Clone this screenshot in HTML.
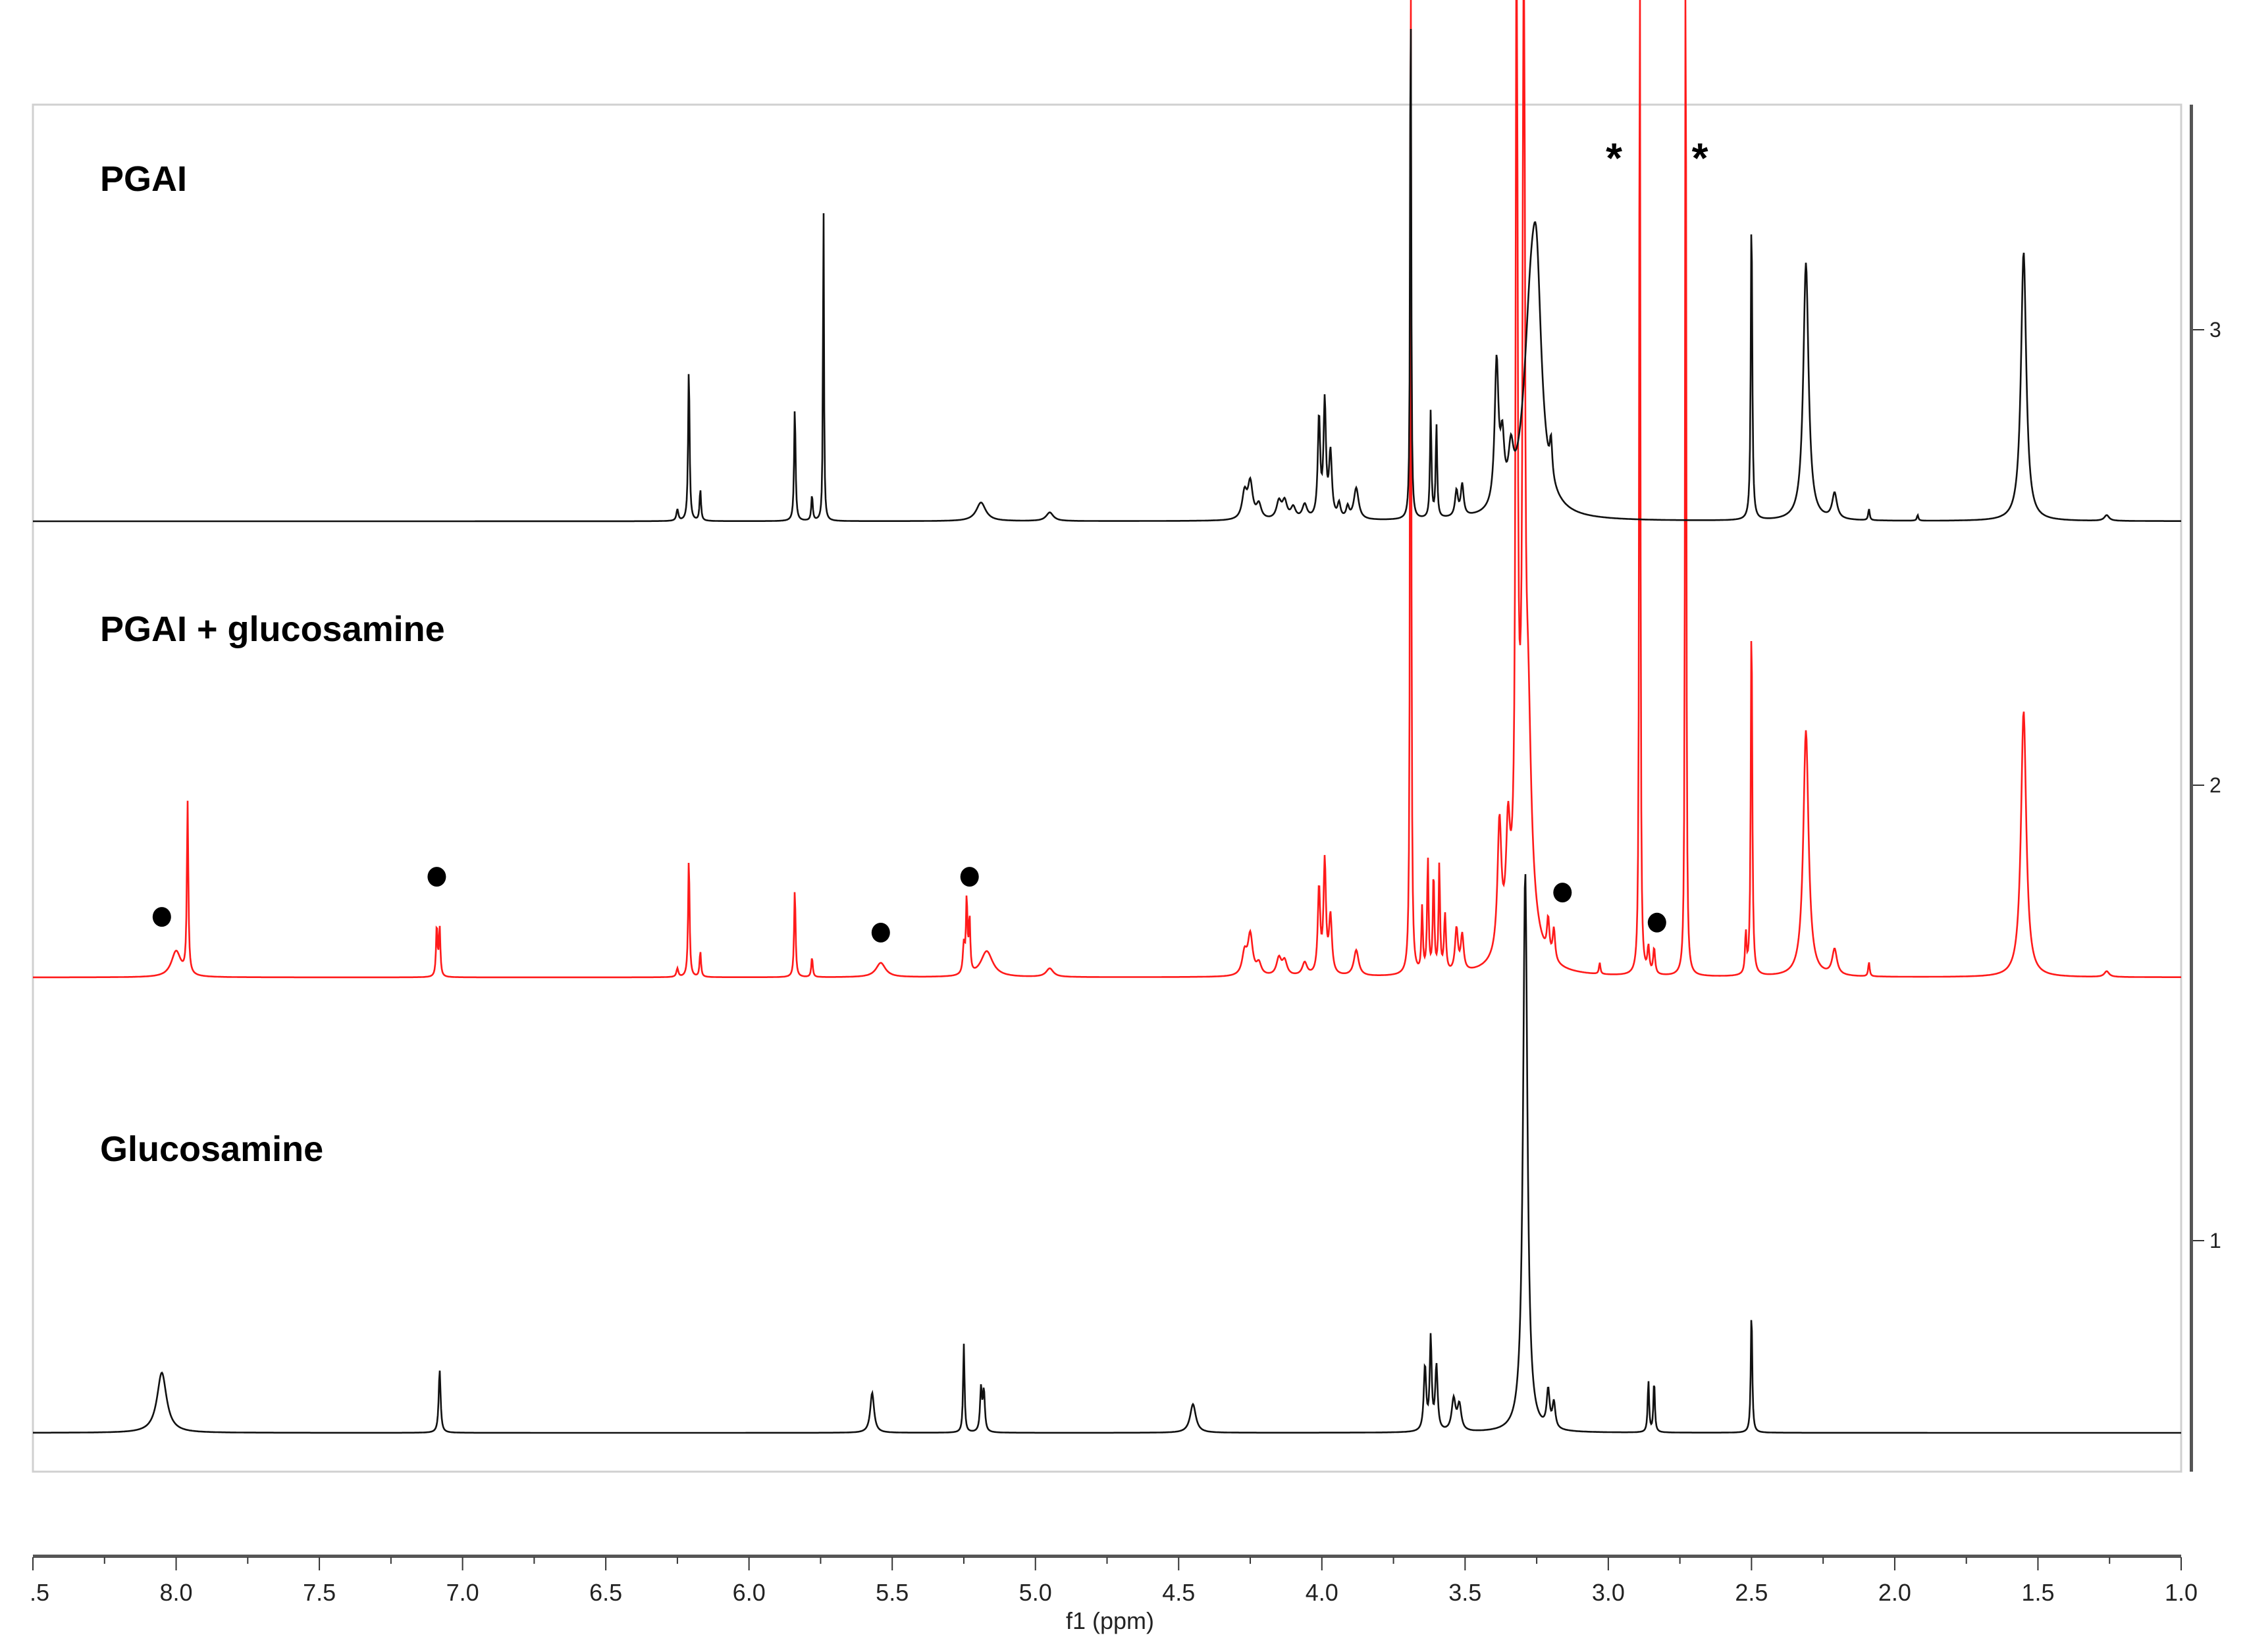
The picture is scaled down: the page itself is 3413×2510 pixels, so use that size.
<!DOCTYPE html>
<html><head><meta charset="utf-8"><style>
html,body{margin:0;padding:0;background:#fff}
svg{display:block}
text{font-family:"Liberation Sans",sans-serif}
</style></head><body>
<svg id="chart" width="3413" height="2510" viewBox="0 0 3413 2510" xmlns="http://www.w3.org/2000/svg">
<rect x="50" y="159" width="3263" height="2077" fill="none" stroke="#d0d0d0" stroke-width="3"/>
<g id="spectra"></g>
<g id="xaxis"></g>
<g id="yaxis"></g>
<text x="152" y="290" font-size="54" font-weight="bold">PGAI</text>
<text x="152" y="974" font-size="54" font-weight="bold">PGAI + glucosamine</text>
<text x="152" y="1764" font-size="54" font-weight="bold">Glucosamine</text>
<text x="1686" y="2475" font-size="36" text-anchor="middle" fill="#222">f1 (ppm)</text>
</svg>
<script>
// ---- data (heights in reference units, widths in ppm) ----
const pgaiPpm   = [6.25,6.21,6.17,5.84,5.78,5.74,5.19,4.95,4.27,4.25,4.22,4.15,4.13,4.10,4.06,4.01,3.99,3.97,3.94,3.91,3.88,3.69,3.62,3.60,3.53,3.51,3.39,3.37,3.34,3.27,3.25,3.20,2.50,2.31,2.21,2.09,1.92,1.55,1.26];
const pgaiH     = [8,108,22,80,18,228,13,6,18,25,10,12,12,8,10,70,80,45,10,8,22,450,75,65,18,22,100,40,30,130,110,25,218,180,18,8,4,188,4];
const pgaiW     = [.004,.003,.003,.003,.003,.002,.02,.015,.01,.01,.01,.01,.01,.01,.01,.005,.005,.006,.006,.006,.01,.002,.003,.003,.006,.006,.008,.008,.01,.03,.02,.005,.003,.011,.01,.003,.003,.011,.01];

const mixPpm    = [8.00,7.96,7.09,7.08,6.25,6.21,6.17,5.84,5.78,5.54,5.25,5.24,5.23,5.17,4.95,4.27,4.25,4.22,4.15,4.13,4.06,4.01,3.99,3.97,3.88,3.69,3.65,3.63,3.61,3.59,3.57,3.53,3.51,3.38,3.35,3.32,3.295,3.30,3.28,3.21,3.19,3.03,2.89,2.86,2.84,2.73,2.52,2.50,2.31,2.21,2.09,1.55,1.26];
const mixH      = [18,120,36,34,6,84,18,62,14,10,20,52,38,18,6,15,28,8,12,10,9,60,78,40,18,900,45,80,70,75,40,30,25,90,70,900,900,120,110,25,22,8,900,18,18,900,28,255,172,18,10,186,4];
const mixW      = [.02,.003,.003,.003,.004,.003,.003,.003,.003,.02,.004,.003,.003,.025,.015,.01,.01,.01,.01,.01,.01,.005,.005,.006,.01,.002,.003,.003,.003,.003,.004,.006,.006,.008,.008,.003,.003,.03,.012,.005,.005,.003,.002,.004,.004,.002,.003,.003,.011,.01,.003,.011,.01];

const glcPpm    = [8.05,7.08,5.57,5.25,5.19,5.18,4.45,3.64,3.62,3.60,3.54,3.52,3.29,3.21,3.19,2.86,2.84,2.50];
const glcH      = [42,44,28,62,30,28,20,45,64,45,22,18,392,26,18,36,36,86];
const glcW      = [.02,.004,.008,.003,.004,.004,.012,.005,.004,.005,.008,.008,.009,.006,.006,.003,.003,.003];

const xTickVals = [8.5,8.0,7.5,7.0,6.5,6.0,5.5,5.0,4.5,4.0,3.5,3.0,2.5,2.0,1.5,1.0];
const xTickLabels = [".5","8.0","7.5","7.0","6.5","6.0","5.5","5.0","4.5","4.0","3.5","3.0","2.5","2.0","1.5","1.0"];
const yTickVals = [1,2,3];
const yTickLabels = ["1","2","3"];

// ---- scales ----
const S = 2.1767;
const X0 = 50, X1 = 3313, PPM0 = 8.5, PPM1 = 1.0;
function xs(p){ return X0 + (PPM0 - p) / (PPM0 - PPM1) * (X1 - X0); }
function ys(v){ return 1885 - (v - 1) * 692; }
const NS = "http://www.w3.org/2000/svg";

function spectrum(ppm, h, w, base, color, name, topClip){
  let d = "";
  for (let px = X0; px <= X1; px += 1) {
    const p = PPM0 - (px - X0) / (X1 - X0) * (PPM0 - PPM1);
    let y = 0;
    for (let i = 0; i < ppm.length; i++) {
      const dx = p - ppm[i];
      y += h[i] * w[i] * w[i] / (dx * dx + w[i] * w[i]);
    }
    let yy = base - y * S;
    if (yy < topClip) yy = topClip;
    d += (px === X0 ? "M" : "L") + px + "," + yy.toFixed(1);
  }
  const path = document.createElementNS(NS, "path");
  path.setAttribute("d", d);
  path.setAttribute("fill", "none");
  path.setAttribute("stroke", color);
  path.setAttribute("stroke-width", "2.6");
  
  
  document.getElementById("spectra").appendChild(path);
}
spectrum(mixPpm, mixH, mixW, 1485, "#ff1a1a", "spectrum-pgai-glucosamine", 0);
spectrum(pgaiPpm, pgaiH, pgaiW, 792, "#111", "spectrum-pgai", 44);
spectrum(glcPpm, glcH, glcW, 2177, "#111", "spectrum-glucosamine", 0);

const dotPpm = [8.05,7.09,5.54,5.23,3.16,2.83];
const dotY   = [640,612,651,612,623,644];
const sp = document.getElementById("spectra");
for (let i = 0; i < dotPpm.length; i++) {
  const c = document.createElementNS(NS, "ellipse");
  c.setAttribute("cx", xs(dotPpm[i]).toFixed(1));
  c.setAttribute("cy", (dotY[i] * S).toFixed(1));
  c.setAttribute("rx", "14"); c.setAttribute("ry", "15");
  c.setAttribute("fill", "#000");
  
  
  sp.appendChild(c);
}
const starPpm = [2.98,2.68];
for (let i = 0; i < starPpm.length; i++) {
  const t = document.createElementNS(NS, "text");
  t.setAttribute("x", xs(starPpm[i]).toFixed(1));
  t.setAttribute("y", "262");
  t.setAttribute("font-size", "64");
  t.setAttribute("font-weight", "bold");
  t.setAttribute("text-anchor", "middle");
  t.textContent = "*";
  
  
  sp.appendChild(t);
}

const xa = document.getElementById("xaxis");
const bar = document.createElementNS(NS, "rect");
bar.setAttribute("x", X0); bar.setAttribute("y", "2362");
bar.setAttribute("width", X1 - X0); bar.setAttribute("height", "5");
bar.setAttribute("fill", "#555");


xa.appendChild(bar);
for (let v = 8.5; v >= 0.99; v -= 0.25) {
  const major = Math.abs(v * 2 - Math.round(v * 2)) < 1e-6;
  const l = document.createElementNS(NS, "line");
  const x = xs(v);
  l.setAttribute("x1", x); l.setAttribute("x2", x);
  l.setAttribute("y1", "2366"); l.setAttribute("y2", major ? "2386" : "2376");
  l.setAttribute("stroke", "#333"); l.setAttribute("stroke-width", "2");
  
  
  xa.appendChild(l);
}
for (let i = 0; i < xTickVals.length; i++) {
  const t = document.createElementNS(NS, "text");
  t.setAttribute("x", (xs(xTickVals[i]) + (i === 0 ? 10 : 0)).toFixed(1));
  t.setAttribute("y", "2432");
  t.setAttribute("font-size", "36");
  t.setAttribute("text-anchor", "middle");
  t.setAttribute("fill", "#222");
  t.textContent = xTickLabels[i];
  
  
  xa.appendChild(t);
}

const ya = document.getElementById("yaxis");
const vb = document.createElementNS(NS, "rect");
vb.setAttribute("x", "3326"); vb.setAttribute("y", "159");
vb.setAttribute("width", "5"); vb.setAttribute("height", "2077");
vb.setAttribute("fill", "#555");


ya.appendChild(vb);
for (let i = 0; i < yTickVals.length; i++) {
  const y = ys(yTickVals[i]);
  const l = document.createElementNS(NS, "line");
  l.setAttribute("x1", "3331"); l.setAttribute("x2", "3348");
  l.setAttribute("y1", y); l.setAttribute("y2", y);
  l.setAttribute("stroke", "#333"); l.setAttribute("stroke-width", "2");
  
  
  ya.appendChild(l);
  const t = document.createElementNS(NS, "text");
  t.setAttribute("x", "3356"); t.setAttribute("y", y + 11);
  t.setAttribute("font-size", "32");
  t.setAttribute("fill", "#222");
  t.textContent = yTickLabels[i];
  
  
  ya.appendChild(t);
}
</script>
</body></html>
